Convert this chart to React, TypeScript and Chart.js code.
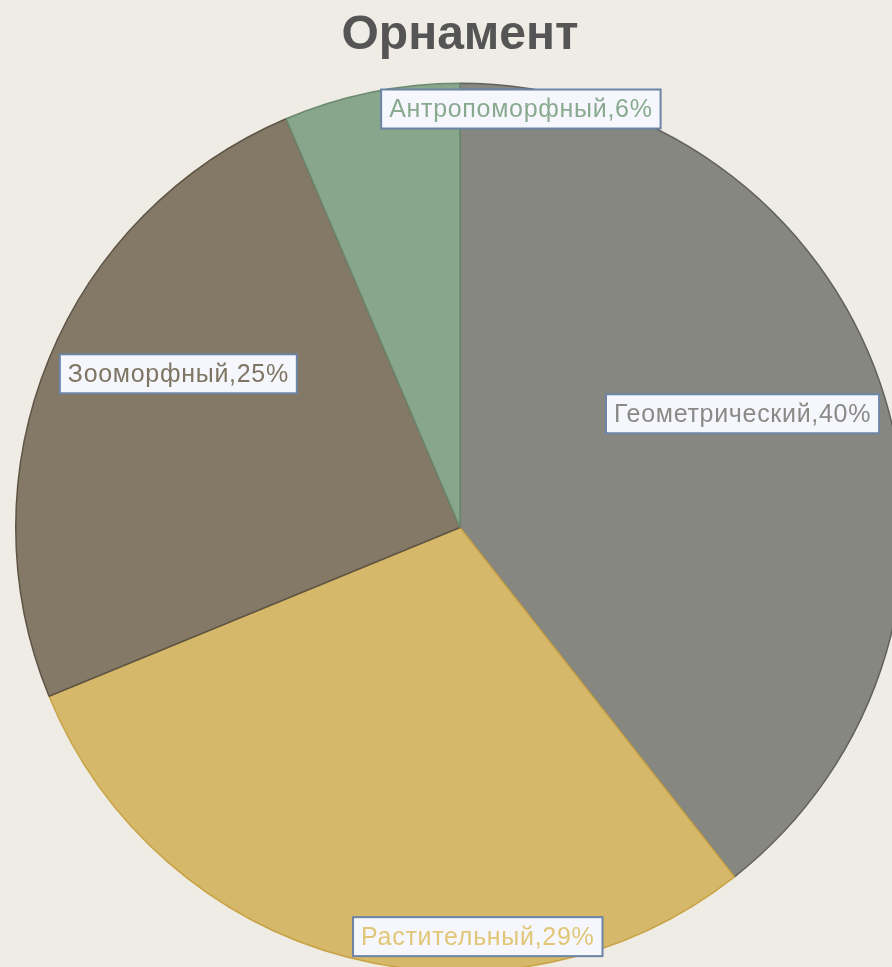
import React, { useEffect, useRef } from "react";
import Chart from "chart.js/auto";

const titleText = "Орнамент";
const categories = ["Геометрический", "Растительный", "Зооморфный", "Антропоморфный"];
// slice sizes (angles), in percent
const values = [39.4, 29.4, 24.8, 6.4];
// percentages printed in the labels
const labelPercents = [40, 29, 25, 6];
const sliceColors = ["#878781", "#d5b86a", "#847966", "#88a68b"];
const borderColors = ["#62625d", "#c9a245", "#5e5444", "#6b8a6e"];
const labelTextColors = ["#8a8a86", "#e2c677", "#7f7564", "#8aaa90"];
// label box centre, as fractions of the pie radius from the pie centre
const labelOffsets = [
  [0.636, -0.256],
  [0.04, 0.921],
  [-0.634, -0.346],
  [0.137, -0.942],
];

const W = 920;
const H = 980;

const labelPlugin = {
  id: "sliceLabels",
  afterDatasetsDraw(chart: any) {
    const ctx = chart.ctx;
    const meta = chart.getDatasetMeta(0);
    ctx.save();
    ctx.font = "25px 'Liberation Sans', Arial, sans-serif";
    (ctx as any).letterSpacing = "0.7px";
    ctx.textBaseline = "middle";
    ctx.textAlign = "left";
    meta.data.forEach((arc: any, i: number) => {
      const R = arc.outerRadius;
      const cx = arc.x + labelOffsets[i][0] * R;
      const cy = arc.y + labelOffsets[i][1] * R;
      const text = `${categories[i]},${labelPercents[i]}%`;
      const tw = ctx.measureText(text).width;
      const bw = tw + 16;
      const bh = 39;
      const bx = cx - bw / 2;
      const by = cy - bh / 2;
      ctx.fillStyle = "#f5f7fc";
      ctx.fillRect(bx, by, bw, bh);
      ctx.strokeStyle = "#6c84a6";
      ctx.lineWidth = 2;
      ctx.strokeRect(bx, by, bw, bh);
      ctx.fillStyle = labelTextColors[i];
      ctx.fillText(text, bx + 8, cy + 1);
    });
    ctx.restore();
  },
  afterDraw(chart: any) {
    const ctx = chart.ctx;
    ctx.save();
    ctx.font = "bold 48px 'Liberation Sans', Arial, sans-serif";
    ctx.fillStyle = "#555555";
    ctx.textAlign = "center";
    ctx.textBaseline = "alphabetic";
    const ca = chart.chartArea;
    ctx.fillText(titleText, (ca.left + ca.right) / 2, 49);
    ctx.restore();
  },
};

export default function App() {
  const ref = useRef<HTMLCanvasElement | null>(null);
  useEffect(() => {
    document.body.style.margin = "0";
    document.body.style.background = "#efece5";
    if (!ref.current) return;
    const chart = new Chart(ref.current, {
      type: "pie",
      data: {
        labels: categories,
        datasets: [
          {
            data: values,
            backgroundColor: sliceColors,
            borderColor: borderColors,
            borderWidth: 1.5,
          },
        ],
      },
      options: {
        animation: false,
        responsive: false,
        devicePixelRatio: 1,
        layout: { padding: { top: 82, left: 15, right: 15, bottom: 7 } },
        plugins: {
          legend: { display: false },
          title: { display: false },
          tooltip: { enabled: false },
        },
      },
      plugins: [labelPlugin],
    });
    return () => chart.destroy();
  }, []);
  return (
    <div
      style={{
        width: 892,
        height: 967,
        overflow: "hidden",
        position: "relative",
        background: "#efece5",
      }}
    >
      <canvas
        ref={ref}
        width={W}
        height={H}
        style={{ position: "absolute", left: 0, top: 0, width: W, height: H }}
      />
    </div>
  );
}
